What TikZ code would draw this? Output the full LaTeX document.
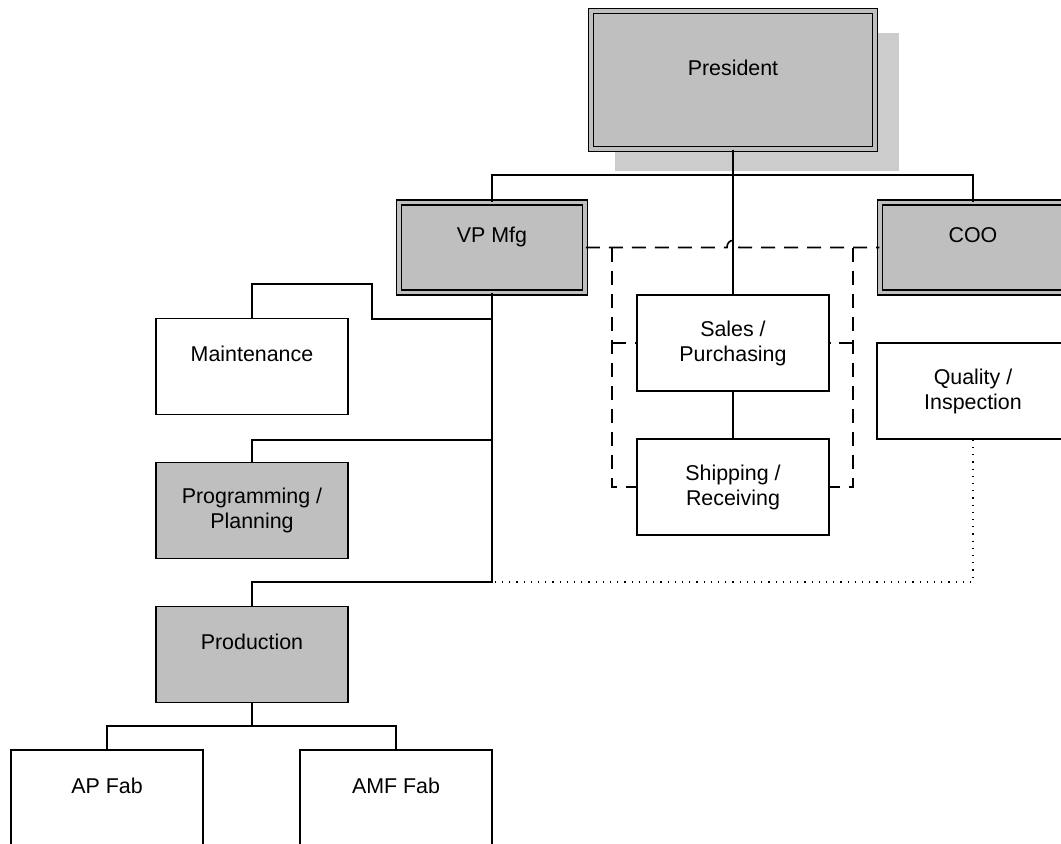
\documentclass[tikz,border=0pt]{standalone}
\usepackage{fontspec}
\setmainfont{Liberation Sans}
\usetikzlibrary{shadows}
\begin{document}
\begin{tikzpicture}[x=0.5pt, y=-0.5pt,
  every node/.style={font=\fontsize{10.7}{12.5}\selectfont},
  orgbox/.style={draw, line width=0.75pt, fill=white, minimum width=96pt, minimum height=48pt, align=center, inner sep=0pt},
  greybox/.style={orgbox, fill=black!25},
  headbox/.style={greybox, double=black!25, double distance=1.7pt, minimum width=93pt, minimum height=45pt},
  link/.style={line width=0.8pt},
  dashlink/.style={line width=0.8pt, dash pattern=on 7pt off 4.5pt},
  dotlink/.style={line width=0.6pt, dash pattern=on 0.6pt off 3pt}]
  \useasboundingbox (0,0) rectangle (1061,843);
  % top level
  \node[headbox, minimum width=142pt, minimum height=69pt, drop shadow={shadow xshift=12pt, shadow yshift=-11pt, fill=black!20, opacity=1}] (pres) at (733,80) {President\\~};
  \node[headbox] (vp) at (492,247.5) {VP Mfg\\~};
  \node[headbox] (coo) at (973,247.5) {COO\\~};
  % middle column
  \node[orgbox] (sales) at (733,343) {Sales /\\Purchasing};
  \node[orgbox] (ship) at (733,487) {Shipping /\\Receiving};
  \node[orgbox] (qual) at (973,391) {Quality /\\Inspection};
  % manufacturing side
  \node[orgbox] (maint) at (252,366.5) {Maintenance\\~};
  \node[greybox] (prog) at (252,510.5) {Programming /\\Planning};
  \node[greybox] (prod) at (252,654.5) {Production\\~};
  \node[orgbox] (apfab) at (107,798) {AP Fab\\~};
  \node[orgbox] (amffab) at (396,798) {AMF Fab\\~};
  % solid reporting lines
  \coordinate (topbus) at (733,175);
  \coordinate (mtjoin) at (492,319);
  \coordinate (pgjoin) at (492,440);
  \coordinate (pdjoin) at (492,582);
  \coordinate (fabbus) at (252,726);
  \draw[link] (pres.south) -- (sales.north);
  \draw[link] (vp.north) |- (topbus) -| (coo.north);
  \draw[link] (sales.south) -- (ship.north);
  \draw[link] (vp.south) -- (pdjoin) -| (prod.north);
  \draw[link] (mtjoin) -- ++(-120,0) -- ++(0,-35) -| (maint.north);
  \draw[link] (pgjoin) -| (prog.north);
  \draw[link] (prod.south) -- (fabbus);
  \draw[link] (apfab.north) |- (fabbus) -| (amffab.north);
  % dashed coordination lines
  \coordinate (dl) at (612,247.5);
  \coordinate (dr) at (853,247.5);
  \draw[dashlink] (vp.east) -- (dl) -- (727,247.5) .. controls (727,238) and (739,238) .. (739,247.5) -- (dr) -- (coo.west);
  \draw[dashlink] (dl) |- (ship.west);
  \draw[dashlink] (dl |- sales.west) -- (sales.west);
  \draw[dashlink] (dr) |- (ship.east);
  \draw[dashlink] (dr |- sales.east) -- (sales.east);
  % dotted quality link
  \draw[dotlink] (qual.south) |- (pdjoin);
\end{tikzpicture}
\end{document}
